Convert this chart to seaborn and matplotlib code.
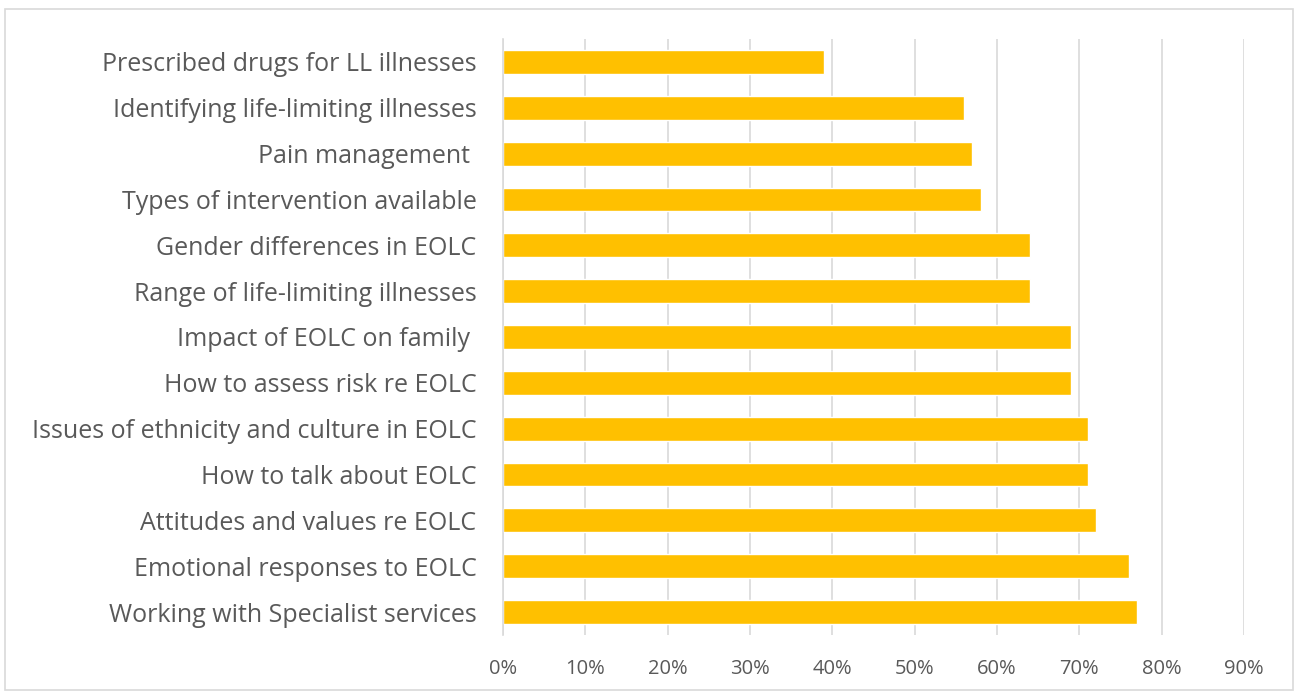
import matplotlib.pyplot as plt
import matplotlib.ticker as mticker
from matplotlib.patches import Rectangle
import pandas as pd
import seaborn as sns

topics = [
    "Prescribed drugs for LL illnesses",
    "Identifying life-limiting illnesses",
    "Pain management ",
    "Types of intervention available",
    "Gender differences in EOLC",
    "Range of life-limiting illnesses",
    "Impact of EOLC on family ",
    "How to assess risk re EOLC",
    "Issues of ethnicity and culture in EOLC",
    "How to talk about EOLC",
    "Attitudes and values re EOLC",
    "Emotional responses to EOLC",
    "Working with Specialist services",
]
share = [0.39, 0.56, 0.57, 0.58, 0.64, 0.64, 0.69, 0.69, 0.71, 0.71, 0.72, 0.76, 0.77]

df = pd.DataFrame({"topic": topics, "share": share})

sns.set_theme(style="white")
plt.rcParams['font.family'] = ['Open Sans', 'DejaVu Sans']

fig = plt.figure(figsize=(12.98, 6.98), dpi=100)
ax = fig.add_axes([503 / 1298, 1 - 635 / 698, (1244 - 503) / 1298, (635 - 39) / 698])

sns.barplot(data=df, x="share", y="topic", orient="h", color="#FFC000",
            saturation=1, width=0.52, ax=ax)

ax.set_xlim(0, 0.9)
ax.xaxis.set_major_locator(mticker.MultipleLocator(0.1))
ax.xaxis.set_major_formatter(mticker.PercentFormatter(1.0, decimals=0))
ax.grid(axis="x", color="#d9d9d9", linewidth=1.2)
ax.set_axisbelow(True)
for side in ["top", "right", "bottom"]:
    ax.spines[side].set_visible(False)
ax.spines["left"].set_color("#d9d9d9")
ax.spines["left"].set_linewidth(1.2)
ax.set_xlabel("")
ax.set_ylabel("")
ax.tick_params(axis="y", length=0, pad=19, labelsize=18, labelcolor="#595959")
ax.tick_params(axis="x", length=0, pad=17, labelsize=14.5, labelcolor="#595959")

# outer chart border
fig.patches.append(Rectangle((5 / 1298, 1 - 690 / 698), 1288 / 1298, 681 / 698,
                             transform=fig.transFigure, fill=False,
                             edgecolor="#d9d9d9", linewidth=1.2))

fig.savefig("out.png", dpi=100)
